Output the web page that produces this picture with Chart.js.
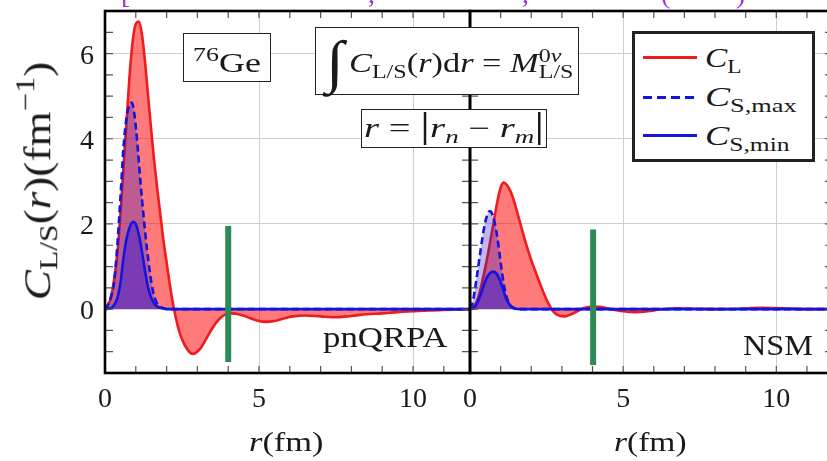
<!DOCTYPE html>
<html>
<head>
<meta charset="utf-8">
<script src="https://cdn.jsdelivr.net/npm/chart.js@4.4.0/dist/chart.umd.min.js"></script>
<style>
  html, body { margin: 0; padding: 0; background: #fff; overflow: hidden; }
  #stage { position: relative; width: 827px; height: 461px; overflow: hidden; background: #fff; }
  canvas { position: absolute; top: 0; }
  .tx { position: absolute; white-space: nowrap; line-height: 1; transform-origin: 0 0;
        font-family: 'Liberation Serif', serif; color: #1a1a1a; z-index: 5; }
  .box { position: absolute; background: #fff; border: 1.5px solid #222; box-sizing: border-box; z-index: 4; }
  .sb { font-size: .7em; position: relative; top: .28em; line-height: 0; }
  .sp { font-size: .72em; position: relative; top: -.58em; line-height: 0; }
  .bar { font-size: 1.3em; line-height: 0; font-style: normal; }
  .stk { display: inline-block; position: relative; font-size: .7em; line-height: 1; }
  .stk .d { position: relative; top: .3em; }
  .stk .u { position: absolute; left: 0; top: -.55em; }
  .lg { position: absolute; z-index: 6; height: 3px; }
</style>
</head>
<body>
<div id="stage">
  <canvas id="qrpa" width="472" height="461" style="left:0"></canvas>
  <canvas id="nsm" width="383" height="461" style="left:452px"></canvas>
</div>
<script>
// pnQRPA panel
const qrpaR_L = [0, 0.2, 0.4, 0.5, 0.6, 0.7, 0.8, 0.9, 1.0, 1.1, 1.2, 1.3, 1.4, 1.5, 1.6, 1.7, 1.8, 1.9, 2.0, 2.1, 2.2, 2.3, 2.4, 2.6, 2.85, 3.1, 3.3, 3.5, 3.7, 3.9, 4.1, 4.4, 4.7, 5.0, 5.2, 5.5, 5.8, 6.1, 6.5, 7.0, 7.5, 8.0, 8.5, 9.0, 9.5, 10, 10.5, 11, 11.9];
const qrpaCL   = [0, 0.3, 1.3, 2.2, 3.3, 4.4, 5.5, 6.3, 6.7, 6.75, 6.45, 5.8, 5.0, 4.2, 3.45, 2.8, 2.2, 1.6, 1.1, 0.6, 0.15, -0.2, -0.5, -0.86, -1.05, -0.92, -0.68, -0.43, -0.24, -0.13, -0.1, -0.13, -0.21, -0.28, -0.3, -0.28, -0.22, -0.17, -0.15, -0.17, -0.19, -0.16, -0.12, -0.1, -0.07, -0.05, -0.03, -0.02, 0];
const qrpaR_S = [0, 0.1, 0.2, 0.3, 0.4, 0.5, 0.6, 0.7, 0.8, 0.87, 0.95, 1.05, 1.15, 1.25, 1.35, 1.45, 1.55, 1.65, 1.75, 1.9, 2.1, 11.9];
const qrpaCSmax = [0, 0.1, 0.3, 0.65, 1.5, 2.6, 3.8, 4.5, 4.8, 4.85, 4.6, 3.9, 3.0, 2.2, 1.5, 0.9, 0.45, 0.2, 0.08, 0.02, 0, 0];
const qrpaR_M = [0, 0.2, 0.3, 0.4, 0.5, 0.6, 0.7, 0.8, 0.92, 1.0, 1.1, 1.2, 1.3, 1.4, 1.5, 1.6, 1.7, 1.8, 2.0, 11.9];
const qrpaCSmin = [0, 0.03, 0.1, 0.25, 0.6, 1.2, 1.65, 1.92, 2.05, 2.0, 1.75, 1.35, 0.9, 0.5, 0.27, 0.13, 0.06, 0.03, 0, 0];
const qrpaCut = [[4.0, 1.95], [4.0, -1.24]];

// NSM panel
const nsmR_L = [0, 0.2, 0.3, 0.4, 0.5, 0.6, 0.7, 0.8, 0.9, 1.0, 1.1, 1.2, 1.3, 1.4, 1.5, 1.6, 1.7, 1.8, 1.9, 2.0, 2.1, 2.2, 2.3, 2.4, 2.5, 2.6, 2.7, 2.9, 3.1, 3.3, 3.5, 3.7, 4.0, 4.3, 4.6, 5.0, 5.4, 5.8, 6.2, 6.8, 7.4, 8.0, 8.8, 9.5, 10.2, 11, 11.9];
const nsmCL   = [0, 0.15, 0.35, 0.65, 0.98, 1.35, 1.75, 2.15, 2.55, 2.85, 2.97, 2.92, 2.8, 2.62, 2.38, 2.12, 1.86, 1.6, 1.37, 1.15, 0.95, 0.76, 0.57, 0.39, 0.22, 0.08, -0.04, -0.15, -0.17, -0.12, -0.05, 0.02, 0.06, 0.05, 0.0, -0.05, -0.07, -0.05, -0.01, 0.02, 0.01, 0, 0.01, 0.03, 0.02, 0, 0];
const nsmR_S = [0, 0.1, 0.2, 0.3, 0.4, 0.5, 0.6, 0.65, 0.7, 0.8, 0.9, 1.0, 1.1, 1.2, 1.3, 1.4, 1.6, 11.9];
const nsmCSmax = [0, 0.2, 0.65, 1.15, 1.65, 2.05, 2.27, 2.3, 2.27, 2.05, 1.65, 1.1, 0.6, 0.28, 0.1, 0.03, 0, 0];
const nsmR_M = [0, 0.1, 0.2, 0.3, 0.4, 0.5, 0.6, 0.76, 0.9, 1.0, 1.1, 1.2, 1.3, 1.4, 1.6, 11.9];
const nsmCSmin = [0, 0.02, 0.1, 0.25, 0.45, 0.66, 0.8, 0.88, 0.8, 0.63, 0.42, 0.22, 0.1, 0.04, 0, 0];
const nsmCut = [[4.02, 1.87], [4.02, -1.31]];

const xTicks = [0, 5, 10];
const yTicks = [0, 2, 4, 6];
const xMax = 11.85;
const yMin = -1.5, yMax = 7;

const serif = "'Liberation Serif', serif";
const RED = '#ee1c1c', BLUE = '#1414e0', GREEN = '#2e8b57';

function pts(xs, ys) { return xs.map((x, i) => ({ x: x, y: ys[i] })); }

function series(rL, cL, rS, cS, rM, cM, cut) {
  return [
    { data: pts(rL, cL), borderColor: RED, backgroundColor: 'rgba(255,0,0,0.52)', fill: 'origin', order: 3 },
    { data: pts(rS, cS), borderColor: BLUE, borderDash: [7, 4], backgroundColor: 'rgba(40,20,200,0.3)', fill: 'origin', order: 2 },
    { data: pts(rM, cM), borderColor: BLUE, backgroundColor: 'rgba(40,20,220,0.45)', fill: 'origin', order: 1 },
    { data: cut.map(p => ({ x: p[0], y: p[1] })), borderColor: GREEN, borderWidth: 6, fill: false, order: 0, cubicInterpolationMode: 'default', tension: 0 }
  ];
}

// inward minor ticks and black frame
const frameTicks = {
  id: 'frameTicks',
  afterDraw(chart) {
    const { ctx, chartArea: a, scales: { x, y } } = chart;
    ctx.save();
    ctx.strokeStyle = '#555';
    ctx.lineWidth = 1.2;
    ctx.beginPath();
    for (let i = 1; i <= 11; i++) {
      const px = x.getPixelForValue(i);
      ctx.moveTo(px, a.bottom); ctx.lineTo(px, a.bottom - 7);
      ctx.moveTo(px, a.top); ctx.lineTo(px, a.top + 7);
    }
    for (let i = 1; i < 17; i++) {
      const py = y.getPixelForValue(yMin + i * 0.5);
      ctx.moveTo(a.left, py); ctx.lineTo(a.left + 8, py);
      ctx.moveTo(a.right, py); ctx.lineTo(a.right - 8, py);
    }
    ctx.stroke();
    ctx.strokeStyle = '#000';
    ctx.lineWidth = 2.6;
    ctx.strokeRect(a.left, a.top, a.width, a.height);
    ctx.restore();
  }
};

function panel(id, datasets, withY, padL, padR) {
  return new Chart(document.getElementById(id), {
    type: 'line',
    data: { datasets: datasets },
    options: {
      responsive: false,
      animation: false,
      devicePixelRatio: 1,
      layout: { padding: { top: 11, left: padL, right: padR, bottom: 0 } },
      elements: {
        point: { radius: 0 },
        line: { borderWidth: 2.6, cubicInterpolationMode: 'monotone' }
      },
      plugins: { legend: { display: false }, tooltip: { enabled: false } },
      scales: {
        x: {
          type: 'linear', min: 0, max: xMax,
          afterBuildTicks: s => { s.ticks = xTicks.map(v => ({ value: v })); },
          afterFit: s => { s.height = 88; s.paddingLeft = 0; s.paddingRight = 0; },
          grid: { color: '#cfcfcf', lineWidth: 1, drawTicks: false },
          border: { display: false },
          ticks: { padding: 10, color: '#1a1a1a', font: { family: serif, size: 28 } }
        },
        y: {
          type: 'linear', min: yMin, max: yMax,
          afterBuildTicks: s => { s.ticks = yTicks.map(v => ({ value: v })); },
          afterFit: s => { s.width = withY ? 105 : 0; s.paddingTop = 0; s.paddingBottom = 0; },
          grid: { color: '#cfcfcf', lineWidth: 1, drawTicks: false },
          border: { display: false },
          ticks: { display: withY, padding: 11, labelOffset: 3, color: '#1a1a1a', font: { family: serif, size: 28 } }
        }
      }
    },
    plugins: [frameTicks]
  });
}

panel('qrpa', series(qrpaR_L, qrpaCL, qrpaR_S, qrpaCSmax, qrpaR_M, qrpaCSmin, qrpaCut), true, 0, 2);
panel('nsm', series(nsmR_L, nsmCL, nsmR_S, nsmCSmax, nsmR_M, nsmCSmin, nsmCut), false, 18, 2);

// text and boxes
const stage = document.getElementById('stage');

function box(l, t, w, h, bw) {
  const b = document.createElement('div');
  b.className = 'box';
  Object.assign(b.style, { left: l + 'px', top: t + 'px', width: w + 'px', height: h + 'px' });
  if (bw) b.style.borderWidth = bw + 'px';
  stage.appendChild(b);
}

function label(html, o) {
  const el = document.createElement('div');
  el.className = 'tx';
  el.innerHTML = html;
  el.style.fontSize = o.size + 'px';
  if (o.color) el.style.color = o.color;
  stage.appendChild(el);
  const w = el.offsetWidth;
  let left = o.left;
  if (o.right !== undefined) left = o.right - o.width;
  if (o.center !== undefined) left = o.center - o.width / 2;
  el.style.left = left + 'px';
  el.style.top = (o.baseline - 0.8375 * o.size) + 'px';
  if (o.width) el.style.transform = 'scaleX(' + (o.width / w) + ')';
}

function line(l, t, w, color, dashed) {
  const d = document.createElement('div');
  d.className = 'lg';
  d.style.left = l + 'px'; d.style.top = (t - 1.5) + 'px'; d.style.width = w + 'px';
  d.style.background = dashed
    ? 'repeating-linear-gradient(90deg,' + color + ' 0 9px, transparent 9px 14px)'
    : color;
  stage.appendChild(d);
}

// cut-off caption fragments above the plot
[['[', 121], [',', 368], [',', 522], ['(', 661], [')', 736]].forEach(c =>
  label(c[0], { left: c[1], baseline: 3, size: 28, color: '#9b30e0' }));

box(183, 33, 88, 49);
label('<span class="sp">76</span>Ge', { left: 193, width: 68, baseline: 73, size: 27 });

box(315, 27, 264, 68);
label('∫', { left: 326, width: 18, baseline: 82, size: 58 });
label('<i>C</i><span class="sb">L/S</span>(<i>r</i>)d<i>r</i> = <i>M</i><span class="stk"><span class="u">0<i>ν</i></span><span class="d">L/S</span></span>',
  { left: 349, width: 224, baseline: 73, size: 27 });

box(361, 109, 186, 39);
label('<i>r</i> = <span class="bar">|</span><i>r</i><span class="sb"><i>n</i></span> − <i>r</i><span class="sb"><i>m</i></span><span class="bar">|</span>',
  { left: 364, width: 180, baseline: 138, size: 27 });

box(632, 31, 183, 131, 3);
line(643, 57, 54, RED, false);
line(643, 97, 54, BLUE, true);
line(643, 135, 54, BLUE, false);
label('<i>C</i><span class="sb">L</span>', { left: 705, width: 37, baseline: 68, size: 27 });
label('<i>C</i><span class="sb">S,max</span>', { left: 705, width: 92, baseline: 107, size: 27 });
label('<i>C</i><span class="sb">S,min</span>', { left: 705, width: 85, baseline: 146, size: 27 });

label('pnQRPA', { right: 447, width: 124, baseline: 347, size: 30 });
label('NSM', { left: 743, width: 70, baseline: 355, size: 30 });

label('<i>r</i>(fm)', { center: 286, width: 75, baseline: 451, size: 28 });
label('<i>r</i>(fm)', { center: 650, width: 73, baseline: 451, size: 28 });

// rotated y-axis title
(function () {
  const F = 34, len = 238, cx = 37, cy = 181;
  const el = document.createElement('div');
  el.className = 'tx';
  el.style.fontSize = F + 'px';
  el.innerHTML = '<i>C</i><span class="sb">L/S</span>(<i>r</i>)(fm<span class="sp">−1</span>)';
  stage.appendChild(el);
  const w = el.offsetWidth;
  el.style.left = (cx - w / 2) + 'px';
  el.style.top = (cy - F / 2) + 'px';
  el.style.transformOrigin = '50% 50%';
  el.style.transform = 'rotate(-90deg) scale(' + (len / w) + ',1.1)';
})();
</script>
</body>
</html>
